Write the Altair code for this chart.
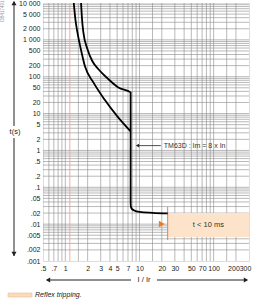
import altair as alt
import pandas as pd

# ---- tick values and labels ----
x_ticks = [0.5, 0.7, 1, 2, 3, 4, 5, 7, 10, 20, 30, 50, 70, 100, 200, 300]
x_tick_labels = [".5", ".7", "1", "2", "3", "4", "5", "7", "10", "20", "30", "50", "70", "100", "200", "300"]
y_ticks = [10000, 5000, 2000, 1000, 500, 200, 100, 50, 20, 10, 5, 2, 1,
           0.5, 0.2, 0.1, 0.05, 0.02, 0.01, 0.005, 0.002, 0.001]
y_tick_labels = ["10 000", "5 000", "2 000", "1 000", "500", "200", "100", "50", "20", "10", "5", "2", "1",
                 ".5", ".2", ".1", ".05", ".02", ".01", ".005", ".002", ".001"]

# ---- grid lines ----
x_grid = [0.6, 0.7, 0.8, 0.9, 1, 1.5, 2, 3, 4, 5, 6, 7, 8, 9, 10, 15, 20, 30, 40, 50, 60, 70, 80, 90,
          100, 150, 200]
y_grid = [0.002, 0.003, 0.004, 0.005, 0.006, 0.007, 0.008, 0.009,
          0.01, 0.02, 0.03, 0.04, 0.05, 0.06, 0.07, 0.08, 0.09,
          0.1, 0.2, 0.3, 0.4, 0.5, 0.6, 0.7, 0.8, 0.9,
          1, 2, 3, 4, 5, 6, 7, 8, 9,
          10, 20, 30, 40, 50, 60, 70, 80, 90,
          100, 200, 300, 400, 500, 600, 700, 800, 900,
          1000, 2000, 3000, 4000, 5000, 6000, 7000, 8000, 9000]

# ---- tripping curves (I/Ir, t in s) ----
upper_x = [1.63, 1.68, 1.75, 1.99, 2.32, 2.80, 3.59, 5.2, 7.6, 7.6, 7.65, 7.9, 8.5, 10.0, 15.0, 24.0]
upper_t = [10000, 3660, 1620, 558, 263, 159, 96, 51, 37.6, 0.04, 0.03, 0.026, 0.0235, 0.0215, 0.0203, 0.0195]
lower_x = [1.30, 1.366, 1.454, 1.62, 1.84, 2.39, 3.38, 5.06, 7.6]
lower_t = [10000, 3660, 1620, 558, 192, 70, 24, 8.3, 3.3]

# ---- annotations ----
ir_line_x = [1.15]
reflex_x = [24]
reflex_x2 = [300]
reflex_t = [0.0045]
reflex_t2 = [0.02]
reflex_edge_t = [0.0295]
reflex_edge_t2 = [0.0037]
reflex_label = ["t < 10 ms"]
reflex_label_x = [85]
reflex_label_t = [0.0095]
marker_x = [20]
marker_t = [0.0101]
tm_arrow_x = [9.4]
tm_arrow_x2 = [19.4]
tm_arrow_t = [1.35]
tm_label = ["TM63D : Im = 8 x In"]
tm_label_x = [21.3]

FONT = "Liberation Sans"


def expr(vals, labels):
    parts = [f"datum.value == {v} ? '{l}'" for v, l in zip(vals, labels)]
    return " : ".join(parts) + " : ''"


xscale = alt.Scale(type="log", domain=[0.5, 300], nice=False)
yscale = alt.Scale(type="log", domain=[0.001, 10000], nice=False)
xaxis = alt.Axis(values=x_ticks, labelExpr=expr(x_ticks, x_tick_labels), ticks=False, domain=False,
                 grid=False, labelPadding=3, labelFontSize=7, labelColor="#222", labelFont=FONT,
                 labelOverlap=False, labelFlush=False, title=None,
                 labelOffset={"condition": [{"test": "datum.value >= 300", "value": -4},
                                            {"test": "datum.value >= 200", "value": -2.5}],
                              "value": 0})
yaxis = alt.Axis(values=y_ticks, labelExpr=expr(y_ticks, y_tick_labels), ticks=False, domain=False,
                 grid=False, labelPadding=3, labelFontSize=7, labelColor="#222", labelFont=FONT,
                 labelOverlap=False, labelFlush=False, title=None)


def X(f):
    return alt.X(f, type="quantitative", scale=xscale, axis=xaxis, title=None)


def Y(f):
    return alt.Y(f, type="quantitative", scale=yscale, axis=yaxis, title=None)


one = pd.DataFrame({"a": [0]})

xg = alt.Chart(pd.DataFrame({"v": x_grid})).mark_rule(color="#8a8a8a", strokeWidth=0.6).encode(x=X("v"))
yg = alt.Chart(pd.DataFrame({"v": y_grid})).mark_rule(color="#8a8a8a", strokeWidth=0.6).encode(y=Y("v"))

ir_line = alt.Chart(pd.DataFrame({"v": ir_line_x})).mark_rule(color="#f29a80", strokeWidth=0.8).encode(x=X("v"))

reflex = alt.Chart(pd.DataFrame({"x": reflex_x, "x2": reflex_x2, "t": reflex_t, "t2": reflex_t2})).mark_rect(
    color="#fce3c9").encode(x=X("x"), x2="x2", y=Y("t"), y2="t2")
reflex_edge = alt.Chart(pd.DataFrame({"x": reflex_x, "t": reflex_edge_t, "t2": reflex_edge_t2})).mark_rule(
    color="#f07a5a", strokeWidth=1).encode(x=X("x"), y=Y("t"), y2="t2")
reflex_text = alt.Chart(pd.DataFrame({"x": reflex_label_x, "t": reflex_label_t, "s": reflex_label})).mark_text(
    font=FONT, fontSize=7.5, color="#333").encode(x=X("x"), y=Y("t"), text="s")
marker = alt.Chart(pd.DataFrame({"x": marker_x, "t": marker_t})).mark_point(
    shape="triangle-right", filled=True, size=45, color="#f07a20", opacity=1).encode(x=X("x"), y=Y("t"))

curves_df = pd.DataFrame({
    "x": upper_x + lower_x,
    "t": upper_t + lower_t,
    "c": ["upper"] * len(upper_x) + ["lower"] * len(lower_x),
    "i": list(range(len(upper_x))) + list(range(len(lower_x))),
})
curves = alt.Chart(curves_df).mark_line(color="black", strokeWidth=1.8, clip=True, interpolate="monotone").encode(
    x=X("x"), y=Y("t"), detail="c:N", order="i:Q")

tm_arrow = alt.Chart(pd.DataFrame({"x": tm_arrow_x, "x2": tm_arrow_x2, "t": tm_arrow_t})).mark_rule(
    color="#222", strokeWidth=0.8).encode(x=X("x"), x2="x2", y=Y("t"))
tm_head = alt.Chart(pd.DataFrame({"x": tm_arrow_x, "t": tm_arrow_t})).mark_point(
    shape="triangle-left", filled=True, size=14, color="#222", opacity=1).encode(x=X("x"), y=Y("t"))
tm_text = alt.Chart(pd.DataFrame({"x": tm_label_x, "t": tm_arrow_t, "s": tm_label})).mark_text(
    font=FONT, fontSize=7, color="#333", align="left").encode(x=X("x"), y=Y("t"), text="s")

# ---- decorations outside the plot (axes arrows, legend) ----
base = alt.Chart(one)
v_arrow = base.mark_rule(color="#222", strokeWidth=1).encode(x=alt.value(-29), y=alt.value(-1), y2=alt.value(253))
v_head_up = base.mark_point(shape="triangle-up", filled=True, size=25, color="#222", opacity=1).encode(
    x=alt.value(-29), y=alt.value(0))
v_head_dn = base.mark_point(shape="triangle-down", filled=True, size=25, color="#222", opacity=1).encode(
    x=alt.value(-29), y=alt.value(251))
ts_bg = base.mark_rect(color="white").encode(x=alt.value(-36), x2=alt.value(-20), y=alt.value(123), y2=alt.value(135))
ts_text = base.mark_text(font=FONT, fontSize=7.5, color="#222").encode(
    x=alt.value(-28), y=alt.value(129), text=alt.value("t(s)"))

h_arrow = base.mark_rule(color="#222", strokeWidth=1).encode(x=alt.value(4), x2=alt.value(204), y=alt.value(277))
h_head_l = base.mark_point(shape="triangle-left", filled=True, size=25, color="#222", opacity=1).encode(
    x=alt.value(5), y=alt.value(277))
h_head_r = base.mark_point(shape="triangle-right", filled=True, size=25, color="#222", opacity=1).encode(
    x=alt.value(203), y=alt.value(277))
ir_bg = base.mark_rect(color="white").encode(x=alt.value(88), x2=alt.value(114), y=alt.value(272), y2=alt.value(283))
ir_text = base.mark_text(font=FONT, fontSize=7.5, color="#222").encode(
    x=alt.value(101), y=alt.value(277), text=alt.value("I / Ir"))

leg_sw = base.mark_rect(color="#fbdcb8", stroke="#e5b58a", strokeWidth=0.5).encode(
    x=alt.value(-35), x2=alt.value(-11), y=alt.value(290), y2=alt.value(294))
leg_text = base.mark_text(font=FONT, fontSize=7, fontStyle="italic", color="#222", align="left").encode(
    x=alt.value(-8), y=alt.value(292), text=alt.value("Reflex tripping."))
code_text = base.mark_text(font=FONT, fontSize=4.5, color="#999", angle=270).encode(
    x=alt.value(-40), y=alt.value(8), text=alt.value("DB417491"))

chart = alt.layer(
    xg, yg, ir_line, reflex, reflex_edge, reflex_text, marker, curves, tm_arrow, tm_head, tm_text,
    v_arrow, v_head_up, v_head_dn, ts_bg, ts_text, h_arrow, h_head_l, h_head_r, ir_bg, ir_text,
    leg_sw, leg_text, code_text,
).properties(
    width=206, height=258,
    autosize=alt.AutoSizeParams(type="none"),
    padding={"left": 43, "top": 3, "right": 5, "bottom": 38},
).configure_view(stroke="#555", strokeWidth=1).configure(background="white")

chart.save("out.html", embed_options={"renderer": "svg", "actions": False})
